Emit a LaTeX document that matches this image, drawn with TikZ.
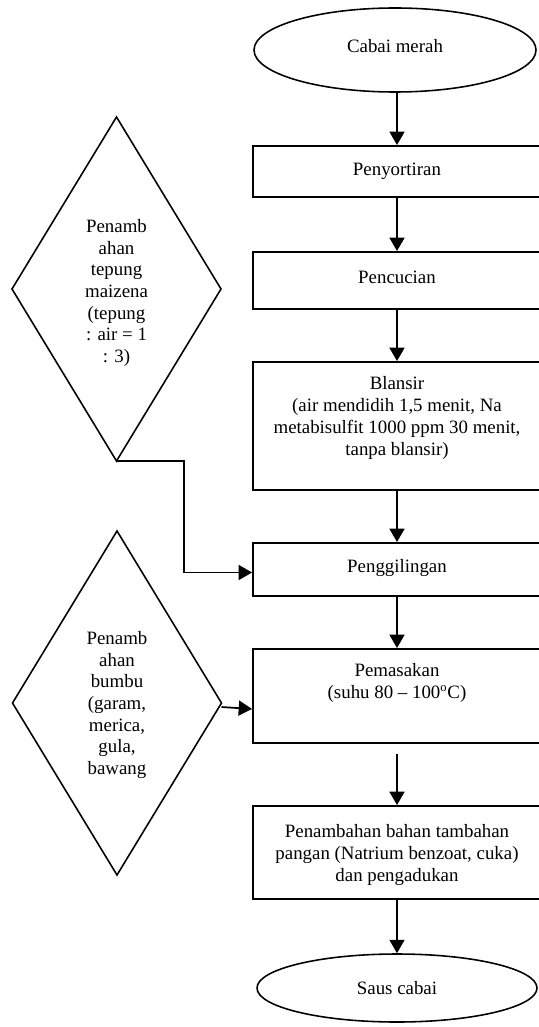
\documentclass[tikz,border=0pt]{standalone}
\usepackage{fontspec}
\setmainfont{Liberation Serif}
\usetikzlibrary{shapes.geometric,arrows.meta}
\begin{document}
\begin{tikzpicture}[x=0.636pt,y=-0.636pt,
  every node/.style={font=\fontsize{12}{13.8}\selectfont},
  procbox/.style={draw,line width=1.2pt,rectangle,inner sep=0pt,minimum width={288*0.636pt}},
  term/.style={draw,line width=1pt,ellipse,inner sep=0pt},
  inbox/.style={draw,line width=1pt,diamond,inner sep=0pt,outer sep=0pt,minimum width={209*0.636pt},minimum height={344*0.636pt}},
  txt/.style={align=center,inner sep=0pt},
  flow/.style={line width=1.1pt,-{Triangle[width=9.5pt,length=8.5pt]}}]
\useasboundingbox (0,0) rectangle (539,1027);
\clip (0,0) rectangle (539,1027);
% terminals
\node[term,minimum width={282*0.636pt},minimum height={84*0.636pt}] (start) at (395,50) {};
\node[txt] (startT) at (395,46) {Cabai merah};
\node[term,minimum width={280*0.636pt},minimum height={68*0.636pt}] (end) at (397,988) {};
\node[txt] (endT) at (397,988) {Saus cabai};
% process boxes
\node[procbox,minimum height={51*0.636pt}] (sort) at (397,171.5) {};
\node[txt] (sortT) at (397,171) {Penyortiran};
\node[procbox,minimum height={57*0.636pt}] (cuci) at (397,280.5) {};
\node[txt] (cuciT) at (397,277) {Pencucian};
\node[procbox,minimum height={128*0.636pt}] (blan) at (397,426) {};
\node[txt] (blanT) at (397,418) {Blansir\\(air mendidih 1,5 menit, Na\\metabisulfit 1000 ppm 30 menit,\\tanpa blansir)};
\node[procbox,minimum height={53*0.636pt}] (giling) at (397,569.5) {};
\node[txt] (gilingT) at (397,568) {Penggilingan};
\node[procbox,minimum height={94*0.636pt}] (masak) at (397,696) {};
\node[txt] (masakT) at (397,683) {Pemasakan\\(suhu 80 -- 100\textsuperscript{o}C)};
\node[procbox,minimum height={93*0.636pt}] (tambah) at (397,852.5) {};
\node[txt] (tambahT) at (397,855) {Penambahan bahan tambahan\\pangan (Natrium benzoat, cuka)\\dan pengadukan};
% input diamonds
\node[inbox] (tepung) at (116.5,289) {};
\node[txt] (tepungT) at (116.5,293) {Penamb\\ahan\\tepung\\maizena\\(tepung\\: air = 1\\: 3)};
\node[inbox] (bumbu) at (117,703) {};
\node[txt] (bumbuT) at (117,705) {Penamb\\ahan\\bumbu\\(garam,\\merica,\\gula,\\bawang};
% coordinates
\coordinate (bendx) at (184,0);
\coordinate (gilingIn) at ([yshift={-3*0.636pt}]giling.west);
\coordinate (masakIn) at ([yshift={-13*0.636pt}]masak.west);
\coordinate (bumbuOut) at ([yshift={-4*0.636pt}]bumbu.east);
\coordinate (masakOut) at ([yshift={-10*0.636pt}]masak.south);
% flow
\draw[flow] (start.south -| sort.north) -- (sort.north);
\draw[flow] (sort.south) -- (cuci.north);
\draw[flow] (cuci.south) -- (blan.north);
\draw[flow] (blan.south) -- (giling.north);
\draw[flow] (giling.south) -- (masak.north);
\draw[flow] (masakOut) -- (tambah.north);
\draw[flow] (tambah.south) -- (end.north);
\draw[flow] (tepung.south) -- (tepung.south -| bendx) |- (gilingIn);
\draw[flow] (bumbuOut) -- (masakIn);
\end{tikzpicture}
\end{document}
